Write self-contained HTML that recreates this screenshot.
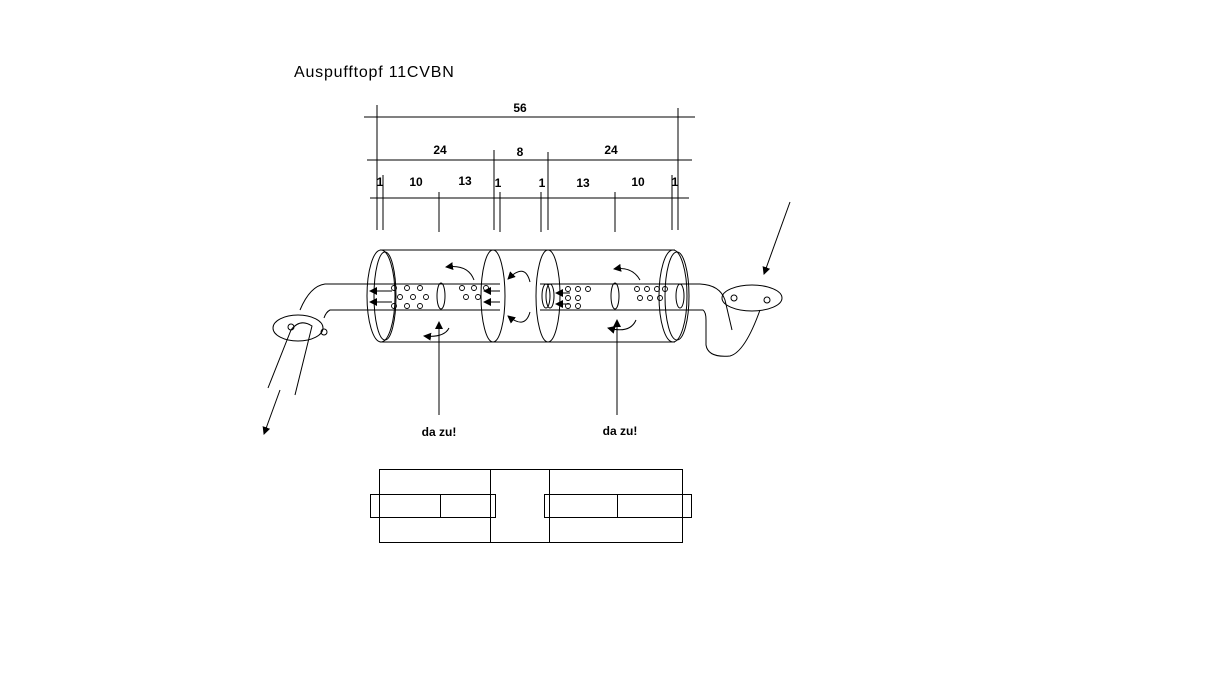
<!DOCTYPE html>
<html><head><meta charset="utf-8"><style>
html,body{margin:0;padding:0;background:#fff;width:1216px;height:685px;overflow:hidden}
svg text{font-family:"Liberation Sans",sans-serif;fill:#000}
</style></head><body>
<svg width="1216" height="685" viewBox="0 0 1216 685" xmlns="http://www.w3.org/2000/svg">
<defs><marker id="a" markerWidth="8" markerHeight="8" refX="7" refY="4" orient="auto" markerUnits="userSpaceOnUse"><path d="M0,0 L8,4 L0,8 z" fill="#000"/></marker></defs>
<g fill="none" stroke="#000" stroke-width="1">
<line x1="364" y1="117" x2="695" y2="117"/>
<line x1="367" y1="160" x2="692" y2="160"/>
<line x1="370" y1="198" x2="689" y2="198"/>
<line x1="377" y1="105" x2="377" y2="230"/>
<line x1="383" y1="175" x2="383" y2="230"/>
<line x1="678" y1="108" x2="678" y2="230"/>
<line x1="672" y1="175" x2="672" y2="230"/>
<line x1="494" y1="150" x2="494" y2="230"/>
<line x1="500" y1="192" x2="500" y2="232"/>
<line x1="541" y1="192" x2="541" y2="232"/>
<line x1="548" y1="152" x2="548" y2="230"/>
<line x1="439" y1="192" x2="439" y2="232"/>
<line x1="615" y1="192" x2="615" y2="232"/>
<line x1="380" y1="250" x2="675" y2="250"/>
<line x1="380" y1="342" x2="675" y2="342"/>
<ellipse cx="381" cy="296" rx="14" ry="46"/>
<ellipse cx="385" cy="296" rx="11" ry="44"/>
<ellipse cx="493" cy="296" rx="12" ry="46"/>
<ellipse cx="548" cy="296" rx="12" ry="46"/>
<ellipse cx="673" cy="296" rx="14" ry="46"/>
<ellipse cx="677" cy="296" rx="12" ry="44"/>
<path d="M500,284 L325,284 Q310,286 300,310"/>
<path d="M500,310 L330,310 Q326,312 324,318"/>
<ellipse cx="441" cy="296" rx="4" ry="13"/>
<ellipse cx="298" cy="328" rx="25" ry="13"/>
<circle cx="291" cy="327" r="3"/><circle cx="324" cy="332" r="3"/>
<path d="M268,388 L291,330 Q300,318 312,326 L295,395"/>
<line x1="280" y1="390" x2="264" y2="434" marker-end="url(#a)"/>
<path d="M540,284 L700,284 Q720,285 725,300 L732,330"/>
<path d="M540,310 L703,310 Q706,312 706,320 L706,345 Q708,358 730,356 Q745,352 760,310"/>
<ellipse cx="752" cy="298" rx="30" ry="13"/>
<circle cx="734" cy="298" r="3"/><circle cx="767" cy="300" r="3"/>
<ellipse cx="615" cy="296" rx="4" ry="13"/>
<ellipse cx="680" cy="296" rx="4" ry="12"/>
<ellipse cx="546" cy="296" rx="4" ry="12"/>
<ellipse cx="550" cy="296" rx="4" ry="12"/>
<line x1="790" y1="202" x2="764" y2="274" marker-end="url(#a)"/>
<g stroke-width="0.9">
<circle cx="394" cy="288" r="2.5"/><circle cx="407" cy="288" r="2.5"/><circle cx="420" cy="288" r="2.5"/>
<circle cx="400" cy="297" r="2.5"/><circle cx="413" cy="297" r="2.5"/><circle cx="426" cy="297" r="2.5"/>
<circle cx="394" cy="306" r="2.5"/><circle cx="407" cy="306" r="2.5"/><circle cx="420" cy="306" r="2.5"/>
<circle cx="462" cy="288" r="2.5"/><circle cx="474" cy="288" r="2.5"/><circle cx="486" cy="288" r="2.5"/>
<circle cx="466" cy="297" r="2.5"/><circle cx="478" cy="297" r="2.5"/>
<circle cx="568" cy="289" r="2.5"/><circle cx="578" cy="289" r="2.5"/><circle cx="588" cy="289" r="2.5"/>
<circle cx="568" cy="298" r="2.5"/><circle cx="578" cy="298" r="2.5"/>
<circle cx="568" cy="306" r="2.5"/><circle cx="578" cy="306" r="2.5"/>
<circle cx="637" cy="289" r="2.5"/><circle cx="647" cy="289" r="2.5"/><circle cx="657" cy="289" r="2.5"/><circle cx="665" cy="289" r="2.5"/>
<circle cx="640" cy="298" r="2.5"/><circle cx="650" cy="298" r="2.5"/><circle cx="660" cy="298" r="2.5"/>
</g>
<line x1="392" y1="291" x2="370" y2="291" marker-end="url(#a)"/>
<line x1="392" y1="302" x2="370" y2="302" marker-end="url(#a)"/>
<line x1="500" y1="291" x2="484" y2="291" marker-end="url(#a)"/>
<line x1="500" y1="302" x2="484" y2="302" marker-end="url(#a)"/>
<line x1="570" y1="293" x2="556" y2="293" marker-end="url(#a)"/>
<line x1="570" y1="304" x2="556" y2="304" marker-end="url(#a)"/>
<path d="M474,280 Q468,264 446,267" marker-end="url(#a)"/>
<path d="M449,328 Q444,338 424,336" marker-end="url(#a)"/>
<path d="M530,282 Q525,262 508,279" marker-end="url(#a)"/>
<path d="M530,312 Q525,330 508,316" marker-end="url(#a)"/>
<path d="M640,280 Q632,266 614,269" marker-end="url(#a)"/>
<path d="M636,320 Q630,334 608,328" marker-end="url(#a)"/>
<line x1="439" y1="415" x2="439" y2="322" marker-end="url(#a)"/>
<line x1="617" y1="415" x2="617" y2="320" marker-end="url(#a)"/>
<rect x="379.5" y="469.5" width="303" height="73"/>
<line x1="490.5" y1="469" x2="490.5" y2="542"/>
<line x1="549.5" y1="469" x2="549.5" y2="542"/>
<rect x="370.5" y="494.5" width="125" height="23"/>
<line x1="440.5" y1="494" x2="440.5" y2="517"/>
<rect x="544.5" y="494.5" width="147" height="23"/>
<line x1="617.5" y1="494" x2="617.5" y2="517"/>
</g>
<text x="294" y="77" font-size="16" letter-spacing="0.8">Auspufftopf 11CVBN</text>
<g font-size="12" font-weight="bold" text-anchor="middle">
<text x="520" y="112">56</text>
<text x="440" y="154">24</text>
<text x="520" y="156">8</text>
<text x="611" y="154">24</text>
<text x="380" y="186">1</text>
<text x="416" y="186">10</text>
<text x="465" y="185">13</text>
<text x="498" y="187">1</text>
<text x="542" y="187">1</text>
<text x="583" y="187">13</text>
<text x="638" y="186">10</text>
<text x="675" y="186">1</text>
<text x="439" y="436">da zu!</text>
<text x="620" y="435">da zu!</text>
</g>
</svg>
</body></html>
